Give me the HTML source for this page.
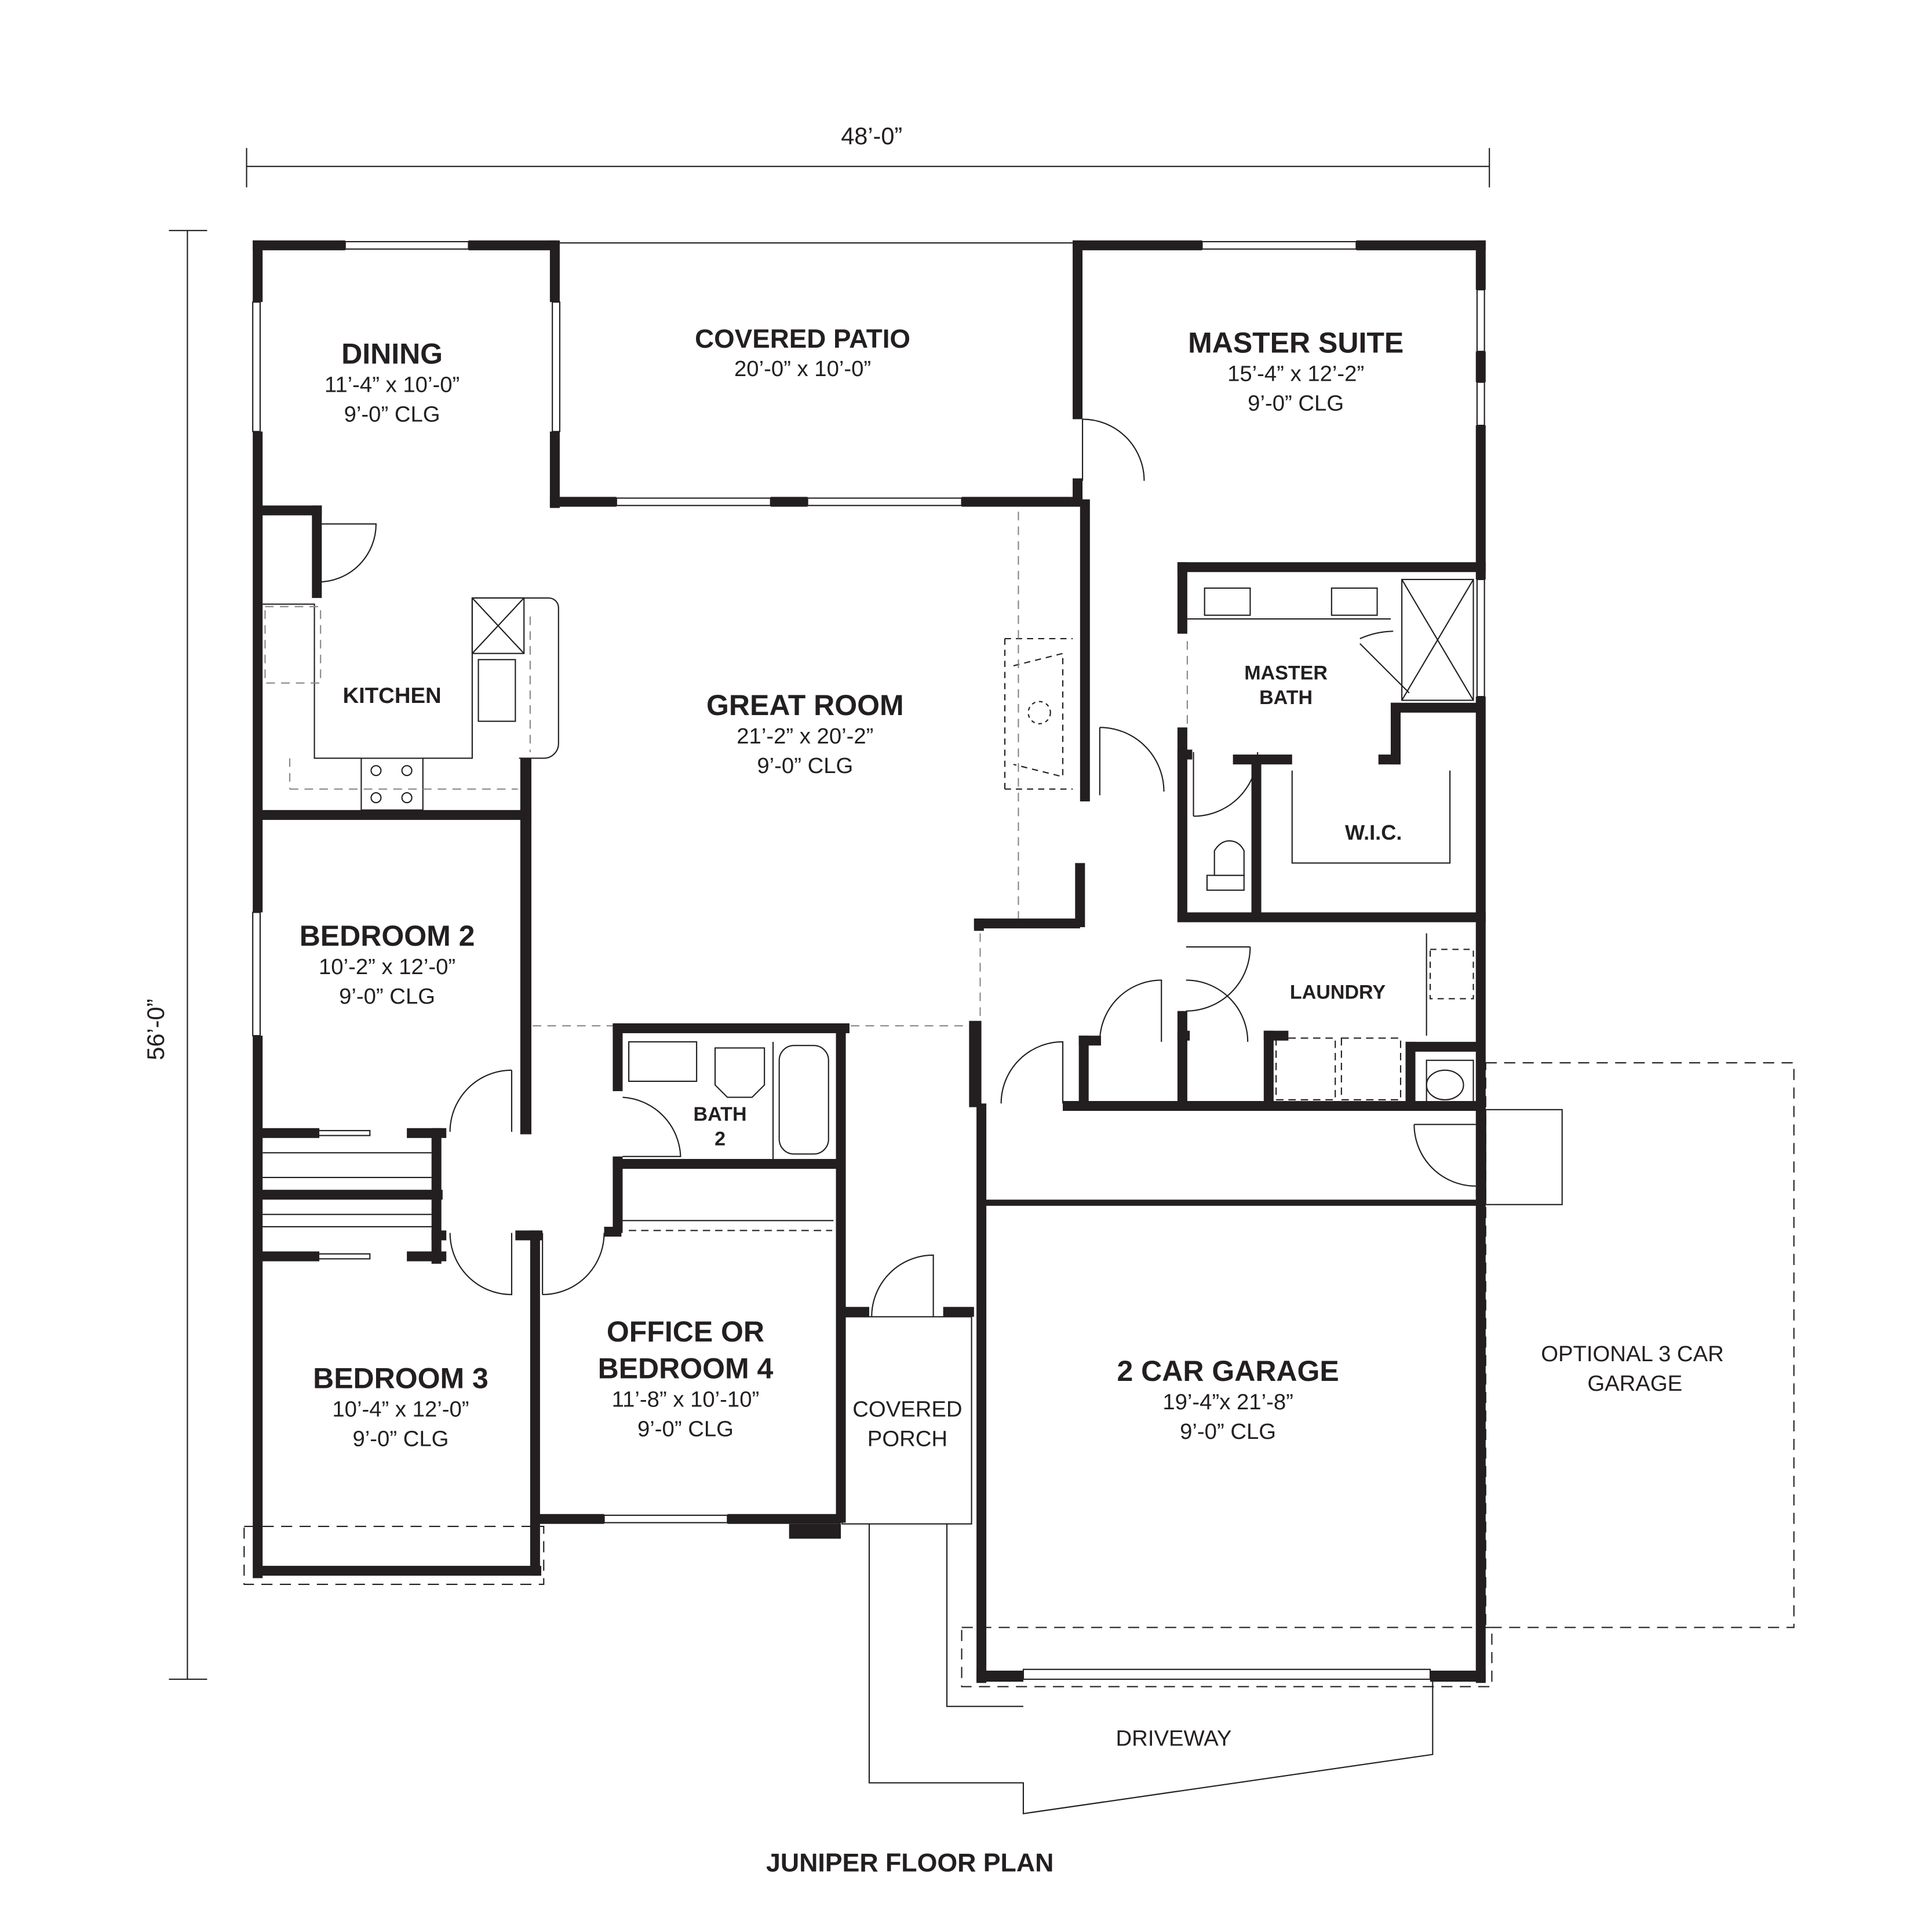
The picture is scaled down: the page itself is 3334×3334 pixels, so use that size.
<!DOCTYPE html>
<html><head><meta charset="utf-8"><style>
html,body{margin:0;padding:0;background:#fff}
svg{display:block}
text{font-family:"Liberation Sans",sans-serif;fill:#231f20}
.h{font-weight:bold;font-size:23.5px}
.s{font-size:18px}
.m{font-weight:bold;font-size:16px}
</style></head><body>
<svg width="3334" height="3334" viewBox="0 0 1567 1567" xmlns="http://www.w3.org/2000/svg">
<g stroke="#231f20" fill="none" stroke-width="1">
<line x1="200" y1="135" x2="1208" y2="135"/>
<line x1="200" y1="120" x2="200" y2="152"/>
<line x1="1208" y1="120" x2="1208" y2="152"/>
<line x1="152" y1="187" x2="152" y2="1362"/>
<line x1="137" y1="187" x2="168" y2="187"/>
<line x1="137" y1="1362" x2="168" y2="1362"/>
<line x1="451" y1="197" x2="874" y2="197"/>
<rect x="280" y="196" width="100" height="6"/>
<rect x="975" y="196" width="125" height="6"/>
<rect x="205" y="245" width="6" height="105"/>
<rect x="448" y="245" width="6" height="105"/>
<rect x="500" y="404" width="125" height="6"/>
<rect x="655" y="404" width="125" height="6"/>
<rect x="1198" y="235" width="6" height="50"/>
<rect x="1198" y="310" width="6" height="35"/>
<rect x="1198" y="470" width="6" height="95"/>
<rect x="205" y="740" width="6" height="100"/>
<rect x="270" y="1271" width="100" height="6"/>
<rect x="490" y="1229" width="100" height="6"/>
<rect x="830" y="1354" width="330" height="8"/>
<path d="M878 340 v50 M878 340 A50 50 0 0 1 928 390"/>
<path d="M258 425 v45 M258 425 h47 A47 47 0 0 1 258 472"/>
<path d="M892 590 v55 M892 590 A52 52 0 0 1 944 642"/>
<path d="M968 610 v52 M968 662 A52 52 0 0 0 1020 610"/>
<path d="M962 768 h52 M1014 768 A52 52 0 0 1 962 820"/>
<path d="M892 845 A50 50 0 0 1 942 795 v50"/>
<path d="M962 795 A50 50 0 0 1 1012 845"/>
<path d="M812 895 A50 50 0 0 1 862 845 v50"/>
<path d="M415 868 v50 M415 868 A50 50 0 0 0 365 918"/>
<path d="M365 1000 A50 50 0 0 0 415 1050 v-50"/>
<path d="M440 1050 A50 50 0 0 0 490 1000"/>
<path d="M440 1000 v50"/>
<path d="M505 890 A50 50 0 0 1 552 938 h-47"/>
<path d="M707 1068 A50 50 0 0 1 757 1018 v50"/>
<path d="M1147 912 A50 50 0 0 0 1197 962 M1147 912 h50"/>
<path d="M1103 518 A70 70 0 0 1 1130 512 M1103 522 l40 40"/>
<line x1="213" y1="935" x2="350" y2="935"/><line x1="213" y1="955" x2="350" y2="955"/>
<line x1="213" y1="985" x2="350" y2="985"/><line x1="213" y1="995" x2="350" y2="995"/>
<rect x="230" y="917" width="70" height="4"/><rect x="230" y="1017" width="70" height="4"/>
<path d="M385 485 h60 a8 8 0 0 1 8 8 v110 a12 12 0 0 1 -12 12 h-20"/>
<rect x="383" y="485" width="42" height="45"/>
<path d="M383 485 l42 45 M425 485 l-42 45"/>
<rect x="388" y="535" width="30" height="50"/>
<rect x="293" y="615" width="50" height="42"/>
<circle cx="305" cy="625" r="4"/><circle cx="330" cy="625" r="4"/><circle cx="305" cy="647" r="4"/><circle cx="330" cy="647" r="4"/>
<path d="M213 490 h42 v125 h38 M343 615 h40 v-130"/>
<path d="M815 518 h55 M815 640 h55 M815 518 v122 M822 540 l40 -10 v100 l-40 -10" stroke-dasharray="5 4"/>
<circle cx="843" cy="578" r="9" stroke-dasharray="3 3"/>
<rect x="977" y="477" width="37" height="22"/><rect x="1080" y="477" width="37" height="22"/>
<line x1="963" y1="502" x2="1128" y2="502"/>
<rect x="1137" y="470" width="58" height="98"/>
<path d="M1137 470 l58 98 M1195 470 l-58 98"/>
<path d="M985 690 q5 -8 12 -8 q8 0 12 8 v20 h-24 z"/>
<path d="M979 710 h30 v12 h-30 z"/>
<path d="M1048 625 v75 h128 v-75"/>
<rect x="510" y="845" width="55" height="32"/>
<path d="M580 850 h40 v30 l-10 10 h-20 l-10 -10 z"/>
<rect x="632" y="848" width="40" height="88" rx="12"/>
<line x1="627" y1="845" x2="627" y2="942"/>
<line x1="505" y1="990" x2="676" y2="990"/>
<path d="M510 998 h165" stroke-dasharray="6 4"/>
<path d="M1035 842 h48 v50 h-48 z M1088 842 h48 v50 h-48 z" stroke-dasharray="6 4"/>
<path d="M1160 770 h35 v40 h-35 z" stroke-dasharray="5 4"/>
<line x1="1157" y1="757" x2="1157" y2="840"/>
<ellipse cx="1172" cy="880" rx="15" ry="12"/>
<rect x="1157" y="860" width="38" height="38"/>
<g stroke-dasharray="7 5" stroke="#888">
<line x1="826" y1="415" x2="826" y2="745"/>
<line x1="432" y1="832" x2="500" y2="832"/>
<line x1="690" y1="832" x2="790" y2="832"/>
<line x1="795" y1="757" x2="795" y2="830"/>
<line x1="235" y1="615" x2="235" y2="640"/><line x1="235" y1="640" x2="420" y2="640"/>
<line x1="430" y1="500" x2="430" y2="610"/>
<line x1="963" y1="520" x2="963" y2="590"/>
<rect x="215" y="492" width="45" height="62"/>
</g>
<rect x="1205" y="862" width="250" height="458" stroke-dasharray="9 6"/>
<rect x="198" y="1238" width="243" height="47" stroke-dasharray="9 6"/>
<rect x="780" y="1320" width="430" height="48" stroke-dasharray="9 6"/>
<rect x="683" y="1068" width="105" height="168"/>
<path d="M705 1236 v210 h125 v25 l332 -48 v-63"/>
<path d="M768 1236 v148 h62"/>
<rect x="1205" y="900" width="62" height="77"/>
</g>
<g fill="#231f20">
<rect x="205" y="195" width="75" height="8"/><rect x="380" y="195" width="71" height="8"/>
<rect x="205" y="195" width="8" height="50"/><rect x="205" y="350" width="8" height="390"/>
<rect x="205" y="840" width="8" height="440"/>
<rect x="446" y="195" width="8" height="50"/><rect x="446" y="350" width="8" height="62"/>
<rect x="446" y="403" width="54" height="8"/><rect x="625" y="403" width="30" height="8"/><rect x="780" y="403" width="98" height="8"/>
<rect x="870" y="195" width="105" height="8"/><rect x="1100" y="195" width="105" height="8"/>
<rect x="870" y="195" width="8" height="145"/><rect x="870" y="388" width="8" height="20"/>
<rect x="876" y="405" width="8" height="245"/>
<rect x="872" y="700" width="8" height="52"/>
<rect x="1197" y="195" width="8" height="40"/><rect x="1197" y="285" width="8" height="25"/><rect x="1197" y="345" width="8" height="125"/>
<rect x="1197" y="565" width="8" height="405"/>
<rect x="209" y="410" width="52" height="8"/><rect x="253" y="410" width="8" height="75"/>
<rect x="209" y="657" width="222" height="8"/><rect x="422" y="615" width="9" height="305"/>
<rect x="209" y="915" width="50" height="8"/><rect x="330" y="915" width="32" height="8"/>
<rect x="350" y="915" width="8" height="110"/>
<rect x="209" y="965" width="150" height="8"/><rect x="350" y="998" width="12" height="8"/>
<rect x="209" y="1015" width="50" height="8"/><rect x="330" y="1015" width="32" height="8"/>
<rect x="418" y="998" width="22" height="8"/><rect x="430" y="998" width="8" height="280"/>
<rect x="209" y="1270" width="230" height="8"/>
<rect x="432" y="1228" width="58" height="8"/><rect x="590" y="1228" width="92" height="8"/>
<rect x="640" y="1236" width="42" height="12"/>
<rect x="678" y="835" width="8" height="400"/>
<rect x="497" y="830" width="192" height="8"/><rect x="497" y="830" width="8" height="55"/>
<rect x="497" y="938" width="8" height="62"/><rect x="497" y="940" width="185" height="8"/>
<rect x="490" y="995" width="14" height="8"/>
<rect x="683" y="1060" width="22" height="8"/><rect x="765" y="1060" width="25" height="8"/>
<rect x="790" y="745" width="86" height="8"/><rect x="790" y="745" width="8" height="10"/>
<rect x="786" y="828" width="10" height="70"/><rect x="792" y="895" width="8" height="470"/>
<rect x="792" y="1355" width="38" height="9"/><rect x="1160" y="1355" width="45" height="9"/>
<rect x="1197" y="965" width="8" height="400"/>
<rect x="798" y="973" width="400" height="5"/>
<rect x="862" y="893" width="340" height="8"/>
<rect x="875" y="840" width="8" height="58"/><rect x="875" y="840" width="18" height="8"/>
<rect x="955" y="820" width="8" height="78"/><rect x="955" y="836" width="10" height="8"/>
<rect x="1025" y="836" width="8" height="60"/><rect x="1025" y="836" width="20" height="8"/>
<rect x="1140" y="845" width="8" height="55"/><rect x="1140" y="845" width="60" height="8"/>
<rect x="955" y="456" width="250" height="8"/><rect x="955" y="456" width="8" height="58"/>
<rect x="955" y="590" width="8" height="158"/><rect x="955" y="608" width="12" height="8"/>
<rect x="1015" y="615" width="8" height="130"/><rect x="1000" y="612" width="48" height="8"/>
<rect x="1128" y="570" width="8" height="50"/><rect x="1118" y="612" width="18" height="8"/><rect x="1128" y="570" width="75" height="8"/>
<rect x="955" y="740" width="250" height="8"/>
</g>
<g text-anchor="middle">
<text x="707" y="117" class="s" style="font-size:19.5px">48’-0”</text>
<text x="133" y="835" class="s" style="font-size:19.5px" transform="rotate(-90 133 835)">56’-0”</text>
<text x="318" y="295" class="h">DINING</text>
<text x="318" y="318" class="s">11’-4” x 10’-0”</text>
<text x="318" y="342" class="s">9’-0” CLG</text>
<text x="651" y="282" class="h" style="font-size:21.5px">COVERED PATIO</text>
<text x="651" y="305" class="s">20’-0” x 10’-0”</text>
<text x="1051" y="286" class="h">MASTER SUITE</text>
<text x="1051" y="309" class="s">15’-4” x 12’-2”</text>
<text x="1051" y="333" class="s">9’-0” CLG</text>
<text x="318" y="570" class="m" style="font-size:18px">KITCHEN</text>
<text x="653" y="580" class="h">GREAT ROOM</text>
<text x="653" y="603" class="s">21’-2” x 20’-2”</text>
<text x="653" y="627" class="s">9’-0” CLG</text>
<text x="1043" y="551" class="m">MASTER</text>
<text x="1043" y="571" class="m">BATH</text>
<text x="1114" y="681" class="m" style="font-size:17px">W.I.C.</text>
<text x="1085" y="810" class="m">LAUNDRY</text>
<text x="314" y="767" class="h">BEDROOM 2</text>
<text x="314" y="790" class="s">10’-2” x 12’-0”</text>
<text x="314" y="814" class="s">9’-0” CLG</text>
<text x="584" y="909" class="m">BATH</text>
<text x="584" y="929" class="m">2</text>
<text x="325" y="1126" class="h">BEDROOM 3</text>
<text x="325" y="1149" class="s">10’-4” x 12’-0”</text>
<text x="325" y="1173" class="s">9’-0” CLG</text>
<text x="556" y="1088" class="h">OFFICE OR</text>
<text x="556" y="1118" class="h">BEDROOM 4</text>
<text x="556" y="1141" class="s">11’-8” x 10’-10”</text>
<text x="556" y="1165" class="s">9’-0” CLG</text>
<text x="736" y="1149" class="s">COVERED</text>
<text x="736" y="1173" class="s">PORCH</text>
<text x="996" y="1120" class="h">2 CAR GARAGE</text>
<text x="996" y="1143" class="s">19’-4”x 21’-8”</text>
<text x="996" y="1167" class="s">9’-0” CLG</text>
<text x="1324" y="1104" class="s">OPTIONAL 3 CAR</text>
<text x="1326" y="1128" class="s">GARAGE</text>
<text x="952" y="1416" class="s">DRIVEWAY</text>
<text x="738" y="1518" class="m" style="font-size:21px">JUNIPER FLOOR PLAN</text>
</g>
</svg>
</body></html>
